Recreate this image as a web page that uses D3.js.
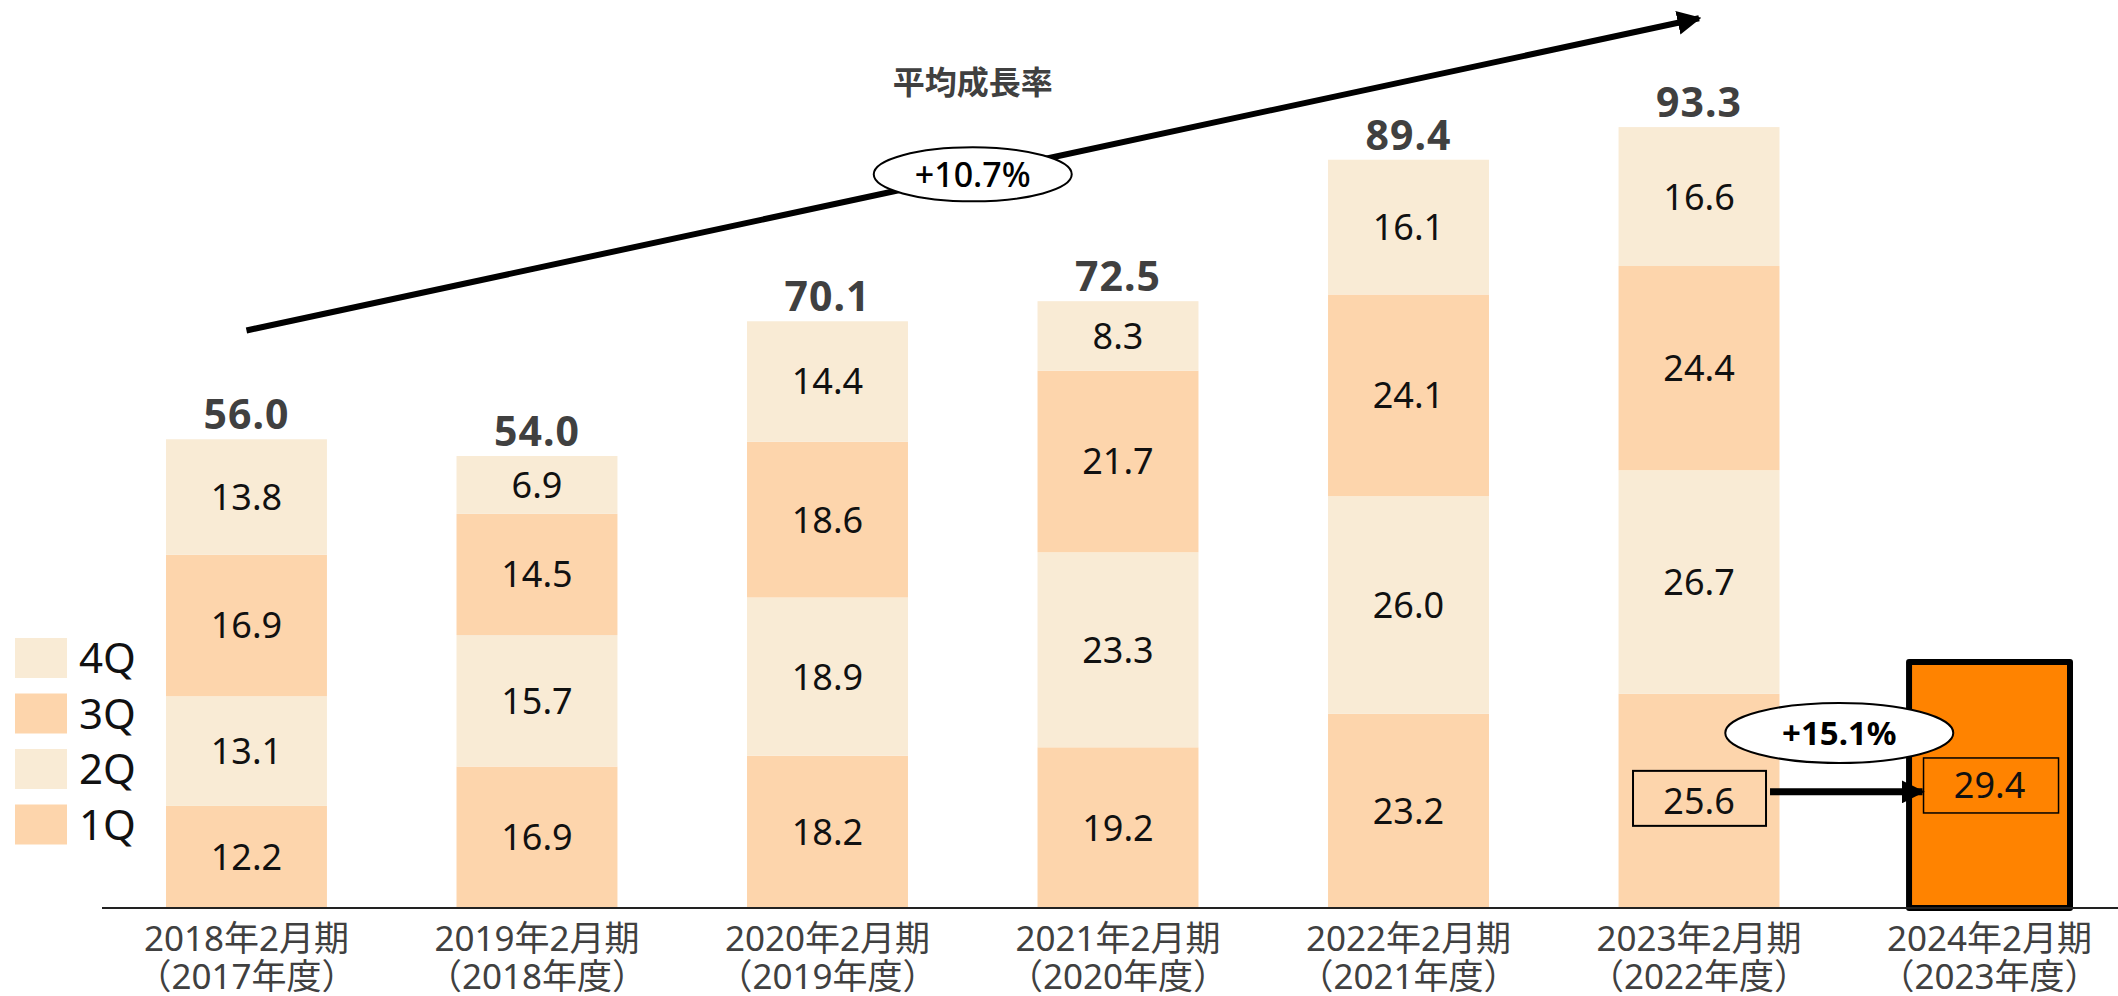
<!DOCTYPE html>
<html lang="ja">
<head>
<meta charset="UTF-8">
<title>四半期別 売上推移</title>
<script src="https://cdn.jsdelivr.net/npm/d3@7"></script>
<style>
  body { margin: 0; background: #fff; }
  svg { display: block; font-family: "Noto Sans", "Noto Sans CJK JP", sans-serif; }
</style>
</head>
<body>
<svg id="chart" width="2118" height="996"></svg>
<script>
// データ
var periods = ["2018年2月期", "2019年2月期", "2020年2月期", "2021年2月期", "2022年2月期", "2023年2月期", "2024年2月期"];
var fiscal  = ["（2017年度）", "（2018年度）", "（2019年度）", "（2020年度）", "（2021年度）", "（2022年度）", "（2023年度）"];
var q1 = [12.2, 16.9, 18.2, 19.2, 23.2, 25.6, 29.4];
var q2 = [13.1, 15.7, 18.9, 23.3, 26.0, 26.7, null];
var q3 = [16.9, 14.5, 18.6, 21.7, 24.1, 24.4, null];
var q4 = [13.8, 6.9, 14.4, 8.3, 16.1, 16.6, null];
var totals = [56.0, 54.0, 70.1, 72.5, 89.4, 93.3, null];
var quarters = ["1Q", "2Q", "3Q", "4Q"];
var cagrText = "+10.7%";
var yoyText = "+15.1%";

var peach = "#fdd5ac", cream = "#f9ebd5";
var qColor = { "1Q": peach, "2Q": cream, "3Q": peach, "4Q": cream };

var svg = d3.select("#chart");
var baseY = 908;

var x = d3.scaleBand()
    .domain(periods)
    .range([166, 2070])
    .paddingInner(0.446)
    .paddingOuter(0);

var y = d3.scaleLinear()
    .domain([0, 100])
    .range([baseY, baseY - 837]);

// 積み上げ
var rows = periods.map(function(p, i) {
    return { period: p, "1Q": q1[i], "2Q": q2[i] || 0, "3Q": q3[i] || 0, "4Q": q4[i] || 0 };
});
var stack = d3.stack().keys(quarters)(rows.slice(0, 6));

var layers = svg.append("g").selectAll("g")
    .data(stack).enter().append("g")
    .attr("fill", function(d) { return qColor[d.key]; });

layers.selectAll("rect")
    .data(function(d) { return d; })
    .enter().append("rect")
    .attr("x", function(d) { return x(d.data.period); })
    .attr("width", x.bandwidth())
    .attr("y", function(d) { return y(d[1]); })
    .attr("height", function(d) { return y(d[0]) - y(d[1]); });

// 数値ラベル
layers.each(function(layer) {
    d3.select(this).selectAll("text")
        .data(layer).enter().append("text")
        .attr("x", function(d) { return x(d.data.period) + x.bandwidth() / 2; })
        .attr("y", function(d) { return (y(d[0]) + y(d[1])) / 2; })
        .attr("dy", "0.36em")
        .attr("text-anchor", "middle")
        .attr("font-size", 36)
        .attr("fill", "#111")
        .text(function(d) { return (d[1] - d[0]).toFixed(1); });
});

// 2024年2月期 (1Qのみ)
var last = periods[6];
svg.append("rect")
    .attr("x", x(last))
    .attr("width", x.bandwidth())
    .attr("y", y(q1[6]))
    .attr("height", baseY - y(q1[6]))
    .attr("fill", "#ff8300")
    .attr("stroke", "#000")
    .attr("stroke-width", 6)
    .attr("stroke-linejoin", "round");

// 合計
svg.append("g").selectAll("text")
    .data(totals.slice(0, 6)).enter().append("text")
    .attr("x", function(d, i) { return x(periods[i]) + x.bandwidth() / 2; })
    .attr("y", function(d) { return y(d) - 10; })
    .attr("text-anchor", "middle")
    .attr("font-size", 41)
    .attr("font-weight", "bold")
    .attr("letter-spacing", 1)
    .attr("fill", "#404040")
    .text(function(d) { return d.toFixed(1); });

// 軸線
svg.append("line")
    .attr("x1", 102).attr("x2", 2118)
    .attr("y1", baseY).attr("y2", baseY)
    .attr("stroke", "#222").attr("stroke-width", 2);

// X軸ラベル
var xl = svg.append("g").selectAll("text")
    .data(periods).enter().append("text")
    .attr("x", function(d) { return x(d) + x.bandwidth() / 2; })
    .attr("text-anchor", "middle")
    .attr("font-size", 35)
    .attr("fill", "#404040");
xl.append("tspan").attr("y", 951).attr("x", function(d) { return x(d) + x.bandwidth() / 2; })
    .text(function(d) { return d; });
xl.append("tspan").attr("y", 989).attr("x", function(d) { return x(d) + x.bandwidth() / 2; })
    .text(function(d, i) { return fiscal[i]; });

// 凡例
var legend = svg.append("g").selectAll("g")
    .data(quarters.slice().reverse()).enter().append("g")
    .attr("transform", function(d, i) { return "translate(15," + (638 + i * 55.5) + ")"; });
legend.append("rect").attr("width", 52).attr("height", 40)
    .attr("fill", function(d) { return qColor[d]; });
legend.append("text").attr("x", 64).attr("y", 20).attr("dy", "0.36em")
    .attr("font-size", 42).attr("fill", "#111")
    .text(function(d) { return d; });

// 矢印マーカー
var defs = svg.append("defs");
defs.append("marker")
    .attr("id", "arrow").attr("viewBox", "0 0 10 10")
    .attr("refX", 9).attr("refY", 5)
    .attr("markerWidth", 4).attr("markerHeight", 4)
    .attr("orient", "auto")
    .append("path").attr("d", "M0,0 L10,5 L0,10 z").attr("fill", "#000");

// 平均成長率の矢印
var tx0 = x(periods[0]) + x.bandwidth() / 2, ty0 = y(69);
var tx1 = x(periods[5]) + x.bandwidth() / 2, ty1 = y(106.3);
svg.append("line")
    .attr("x1", tx0).attr("y1", ty0)
    .attr("x2", tx1).attr("y2", ty1)
    .attr("stroke", "#000").attr("stroke-width", 6)
    .attr("marker-end", "url(#arrow)");

var mx = (tx0 + tx1) / 2, my = (ty0 + ty1) / 2;
svg.append("ellipse")
    .attr("cx", mx).attr("cy", my).attr("rx", 99).attr("ry", 27)
    .attr("fill", "#fff").attr("stroke", "#000").attr("stroke-width", 2);
svg.append("text")
    .attr("x", mx).attr("y", my).attr("dy", "0.36em")
    .attr("text-anchor", "middle").attr("font-size", 34).attr("font-weight", 500)
    .attr("fill", "#000").text(cagrText);
svg.append("text")
    .attr("x", mx).attr("y", 82).attr("dy", "0.36em")
    .attr("text-anchor", "middle").attr("font-size", 32).attr("font-weight", "bold")
    .attr("fill", "#404040").text("平均成長率");

// 前年比の注記
var c6 = x(periods[5]) + x.bandwidth() / 2, c7 = x(last) + x.bandwidth() / 2;
var m6 = y(q1[5] / 2), m7 = y(q1[6] / 2);
svg.append("rect")
    .attr("x", c6 - 66).attr("y", m6 - 30).attr("width", 133).attr("height", 55)
    .attr("fill", "none").attr("stroke", "#000").attr("stroke-width", 2);
svg.append("rect")
    .attr("x", c7 - 66).attr("y", m7 - 27).attr("width", 135).attr("height", 55)
    .attr("fill", "none").attr("stroke", "#000").attr("stroke-width", 1.5);
svg.append("text")
    .attr("x", c7).attr("y", m7).attr("dy", "0.36em")
    .attr("text-anchor", "middle").attr("font-size", 36).attr("fill", "#111")
    .text(q1[6].toFixed(1));

defs.append("marker")
    .attr("id", "arrow2").attr("viewBox", "0 0 10 10")
    .attr("refX", 9).attr("refY", 5)
    .attr("markerWidth", 3.3).attr("markerHeight", 3.3)
    .attr("orient", "auto")
    .append("path").attr("d", "M0,0 L10,5 L0,10 z").attr("fill", "#000");
svg.append("line")
    .attr("x1", c6 + 71).attr("y1", m6 - 9)
    .attr("x2", c7 - 67).attr("y2", m6 - 9)
    .attr("stroke", "#000").attr("stroke-width", 7)
    .attr("marker-end", "url(#arrow2)");

var ex = (c6 + c7) / 2 - 5;
svg.append("ellipse")
    .attr("cx", ex).attr("cy", 733).attr("rx", 114).attr("ry", 30)
    .attr("fill", "#fff").attr("stroke", "#000").attr("stroke-width", 2);
svg.append("text")
    .attr("x", ex).attr("y", 733).attr("dy", "0.36em")
    .attr("text-anchor", "middle").attr("font-size", 33).attr("font-weight", "bold")
    .attr("fill", "#000").text(yoyText);
</script>
</body>
</html>
